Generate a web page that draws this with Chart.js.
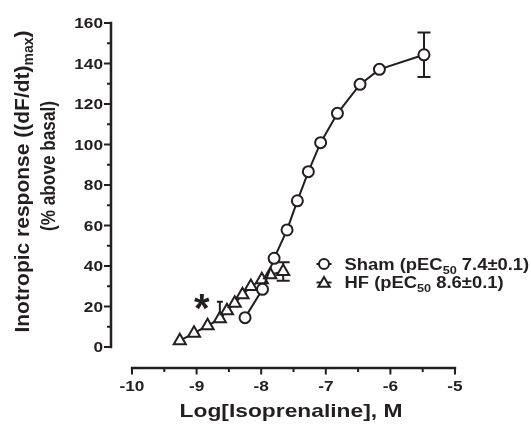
<!DOCTYPE html>
<html><head><meta charset="utf-8">
<script src="https://cdn.jsdelivr.net/npm/chart.js@4.4.1/dist/chart.umd.min.js"></script>
<style>html,body{margin:0;padding:0;background:#fff}#wrap{width:531px;height:424px;position:relative}</style>
</head><body><div id="wrap"><canvas id="c" width="531" height="424"></canvas></div>
<script>
// ---- data ----
const shamX      = [-8.25, -7.98, -7.80, -7.60, -7.44, -7.27, -7.08, -6.82, -6.47, -6.17, -5.48];
const shamY      = [14.5, 28.5, 43.8, 57.8, 72.2, 86.6, 100.9, 115.4, 129.7, 137.1, 144.3];
const shamErrUp  = [0, 0, 0, 0, 0, 0, 0, 0, 0, 0, 11];
const shamErrDn  = [0, 0, 0, 0, 0, 0, 0, 0, 0, 0, 11];
const hfX        = [-9.26, -9.04, -8.83, -8.64, -8.53, -8.41, -8.29, -8.16, -7.99, -7.86, -7.66];
const hfY        = [3.1, 6.8, 10.5, 13.9, 17.9, 21.6, 25.8, 29.9, 33.2, 35.7, 37.3];
const hfErrUp    = [0, 0, 0, 8.5, 0, 0, 0, 0, 0, 0, 4.6];
const hfErrDn    = [0, 0, 0, 0, 0, 0, 0, 0, 0, 0, 4.6];
const xTicks     = [-10, -9, -8, -7, -6, -5];
const xMinor     = [-9.5, -8.5, -7.5, -6.5, -5.5];
const yTicks     = [0, 20, 40, 60, 80, 100, 120, 140, 160];
const yMinor     = [10, 30, 50, 70, 90, 110, 130, 150];
const seriesNames = ['Sham', 'HF'];
const pec50Text   = ['7.4\u00b10.1', '8.6\u00b10.1'];
const starPos = {x: -8.92, y: 23.6};
const xTitle  = 'Log[Isoprenaline], M';
const yTitle1 = 'Inotropic response ((dF/dt)';
const yTitle2 = '(% above basal)';

const INK = '#231f20';
const FONT = '"Liberation Sans", Arial, Helvetica, sans-serif';

function pts(xs, ys) { return xs.map((x, i) => ({x: x, y: ys[i]})); }

function drawText(ctx, parts, x, y, align, sx, rot) {
  ctx.save();
  ctx.translate(x, y);
  if (rot) ctx.rotate(rot);
  ctx.scale(sx, 1);
  let w = 0;
  parts.forEach(p => { ctx.font = p.f; p.w = ctx.measureText(p.t).width; w += p.w; });
  let cx = align === 'center' ? -w / 2 : (align === 'right' ? -w : 0);
  ctx.textAlign = 'left';
  ctx.textBaseline = 'alphabetic';
  ctx.fillStyle = INK;
  parts.forEach(p => { ctx.font = p.f; ctx.fillText(p.t, cx, p.dy || 0); cx += p.w; });
  ctx.restore();
}

const errorBars = {
  id: 'errorBars',
  beforeDatasetsDraw(chart) {
    const ctx = chart.ctx, xs = chart.scales.x, ys = chart.scales.y;
    const sets = [[shamX, shamY, shamErrUp, shamErrDn], [hfX, hfY, hfErrUp, hfErrDn]];
    ctx.save();
    ctx.strokeStyle = INK; ctx.lineWidth = 2;
    sets.forEach(([X, Y, U, D]) => {
      X.forEach((xv, i) => {
        const px = xs.getPixelForValue(xv);
        const cap = (U[i] && D[i]) ? 6.5 : 3;
        if (U[i]) {
          const t = ys.getPixelForValue(Y[i] + U[i]);
          ctx.beginPath();
          ctx.moveTo(px, ys.getPixelForValue(Y[i])); ctx.lineTo(px, t);
          ctx.moveTo(px - cap, t); ctx.lineTo(px + cap, t);
          ctx.stroke();
        }
        if (D[i]) {
          const b = ys.getPixelForValue(Y[i] - D[i]);
          ctx.beginPath();
          ctx.moveTo(px, ys.getPixelForValue(Y[i])); ctx.lineTo(px, b);
          ctx.moveTo(px - cap, b); ctx.lineTo(px + cap, b);
          ctx.stroke();
        }
      });
    });
    ctx.restore();
  }
};

const axesAndText = {
  id: 'axesAndText',
  afterDraw(chart) {
    const ctx = chart.ctx, xs = chart.scales.x, ys = chart.scales.y;
    const axisX = 111, axisY = 368;
    ctx.save();
    ctx.strokeStyle = INK; ctx.lineWidth = 2.5; ctx.lineCap = 'butt';
    // y axis
    ctx.beginPath();
    ctx.moveTo(axisX, ys.getPixelForValue(160) - 1.2);
    ctx.lineTo(axisX, ys.getPixelForValue(0) + 1.2);
    ctx.stroke();
    ctx.lineWidth = 2;
    yTicks.forEach(v => {
      const py = ys.getPixelForValue(v);
      ctx.beginPath(); ctx.moveTo(axisX - 7, py); ctx.lineTo(axisX, py); ctx.stroke();
      drawText(ctx, [{t: String(v), f: 'bold 15px ' + FONT}], axisX - 8, py + 5.4, 'right', 1.15);
    });
    yMinor.forEach(v => {
      const py = ys.getPixelForValue(v);
      ctx.beginPath(); ctx.moveTo(axisX - 4, py); ctx.lineTo(axisX, py); ctx.stroke();
    });
    // x axis
    ctx.lineWidth = 2.5;
    ctx.beginPath();
    ctx.moveTo(xs.getPixelForValue(-10) - 1.2, axisY);
    ctx.lineTo(xs.getPixelForValue(-5) + 1.2, axisY);
    ctx.stroke();
    ctx.lineWidth = 2;
    xTicks.forEach(v => {
      const px = xs.getPixelForValue(v);
      ctx.beginPath(); ctx.moveTo(px, axisY); ctx.lineTo(px, axisY + 6.5); ctx.stroke();
      drawText(ctx, [{t: String(v), f: 'bold 15px ' + FONT}], px, 391, 'center', 1.15);
    });
    xMinor.forEach(v => {
      const px = xs.getPixelForValue(v);
      ctx.beginPath(); ctx.moveTo(px, axisY); ctx.lineTo(px, axisY + 4); ctx.stroke();
    });
    // axis titles
    drawText(ctx, [{t: xTitle, f: 'bold 19px ' + FONT}], 291, 416.5, 'center', 1.2);
    drawText(ctx, [
      {t: yTitle1, f: 'bold 21px ' + FONT},
      {t: 'max', f: 'bold 14px ' + FONT, dy: 4},
      {t: ')', f: 'bold 21px ' + FONT}
    ], 28.5, 181.5, 'center', 1.0, -Math.PI / 2);
    drawText(ctx, [{t: yTitle2, f: 'bold 20px ' + FONT}], 55, 166, 'center', 0.86, -Math.PI / 2);
    // legend
    const rows = [264, 282.5];
    rows.forEach((ry, i) => {
      ctx.strokeStyle = INK; ctx.lineWidth = 2;
      ctx.beginPath(); ctx.moveTo(316.5, ry); ctx.lineTo(331.5, ry); ctx.stroke();
      ctx.fillStyle = '#fff';
      if (i === 0) {
        Chart.helpers.drawPoint(ctx, {pointStyle: 'circle', radius: 5, borderWidth: 2, rotation: 0}, 324, ry);
      } else {
        Chart.helpers.drawPoint(ctx, {pointStyle: 'triangle', radius: 6.5, borderWidth: 2, rotation: 0}, 324, ry + 1);
      }
      drawText(ctx, [
        {t: seriesNames[i] + ' (pEC', f: 'bold 16px ' + FONT},
        {t: '50', f: 'bold 11px ' + FONT, dy: 4},
        {t: ' ' + pec50Text[i] + ')', f: 'bold 16px ' + FONT}
      ], 344.5, ry + 5.7, 'left', 1.15);
    });
    // significance star
    drawText(ctx, [{t: '*', f: 'bold 40px ' + FONT}],
      xs.getPixelForValue(starPos.x), ys.getPixelForValue(starPos.y) + 23, 'center', 1.0);
    ctx.restore();
  }
};

new Chart(document.getElementById('c'), {
  type: 'scatter',
  data: {
    datasets: [
      {
        label: seriesNames[0], data: pts(shamX, shamY), showLine: true,
        borderColor: INK, borderWidth: 2, backgroundColor: '#fff',
        pointStyle: 'circle', pointRadius: 5.5, pointBorderWidth: 2,
        pointBackgroundColor: '#fff', pointBorderColor: INK, clip: false
      },
      {
        label: seriesNames[1], data: pts(hfX, hfY), showLine: true,
        borderColor: INK, borderWidth: 2, backgroundColor: '#fff',
        pointStyle: 'triangle', pointRadius: 7, pointBorderWidth: 2,
        pointBackgroundColor: '#fff', pointBorderColor: INK, clip: false
      }
    ]
  },
  options: {
    responsive: false, animation: false, devicePixelRatio: 1,
    layout: {padding: {left: 132, right: 76, top: 23, bottom: 77}},
    plugins: {legend: {display: false}, tooltip: {enabled: false}},
    scales: {
      x: {type: 'linear', min: -10, max: -5, display: false},
      y: {type: 'linear', min: 0, max: 160, display: false}
    }
  },
  plugins: [errorBars, axesAndText]
});
</script>
</body></html>
